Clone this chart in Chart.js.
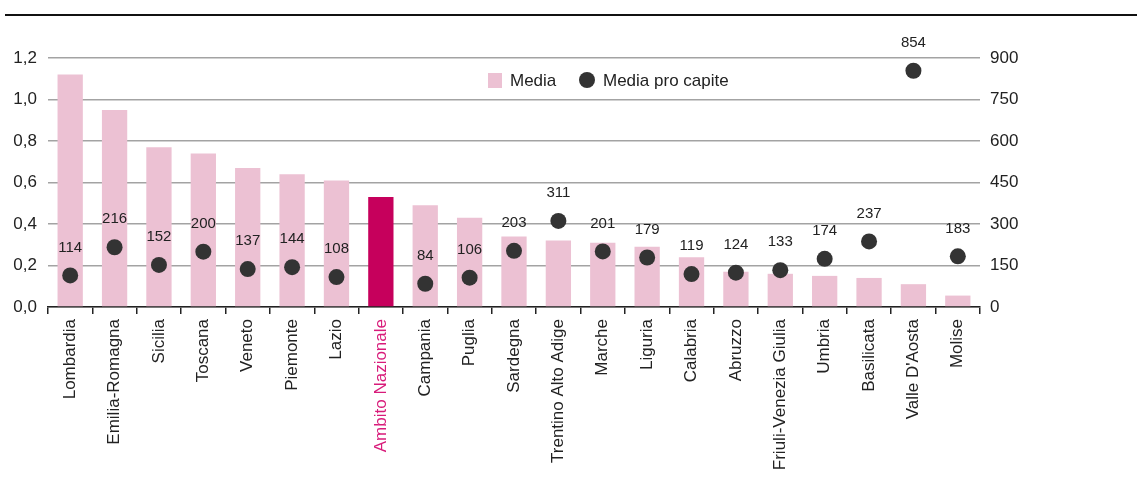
<!DOCTYPE html>
<html lang="it">
<head>
  <meta charset="UTF-8">
  <title>Media e media pro capite per regione</title>
  <script src="https://cdn.jsdelivr.net/npm/chart.js"></script>
  <style>
    html, body {
      margin: 0;
      padding: 0;
      background: #fff;
    }
    .top-rule {
      position: absolute;
      left: 5px;
      right: 0;
      top: 14px;
      border-top: 2px solid #111;
    }
    .chart-box {
      position: relative;
      width: 1137px;
      height: 496px;
    }
  </style>
</head>
<body>
  <div class="chart-box">
    <div class="top-rule"></div>
    <canvas id="myChart" width="1137" height="496"></canvas>
  </div>

  <script>
    const regions = ['Lombardia', 'Emilia-Romagna', 'Sicilia', 'Toscana', 'Veneto', 'Piemonte', 'Lazio',
      'Ambito Nazionale', 'Campania', 'Puglia', 'Sardegna', 'Trentino Alto Adige', 'Marche', 'Liguria',
      'Calabria', 'Abruzzo', 'Friuli-Venezia Giulia', 'Umbria', 'Basilicata', "Valle D'Aosta", 'Molise'];
    const media = [1.12, 0.95, 0.77, 0.74, 0.67, 0.64, 0.61, 0.53, 0.49, 0.43, 0.34, 0.32, 0.31, 0.29,
      0.24, 0.17, 0.16, 0.15, 0.14, 0.11, 0.055];
    const mediaProCapite = [114, 216, 152, 200, 137, 144, 108, null, 84, 106, 203, 311, 201, 179,
      119, 124, 133, 174, 237, 854, 183];
    const leftTicks = [0, 0.2, 0.4, 0.6, 0.8, 1.0, 1.2];
    const rightTicks = [0, 150, 300, 450, 600, 750, 900];
    const highlight = 'Ambito Nazionale';

    // no narrow face installed, so a smaller regular sans keeps the text widths close
    const FONT = "'Liberation Sans Narrow', 'Arial Narrow', 'Liberation Sans', Arial, sans-serif";
    const PINK = '#ecc1d3';
    const MAGENTA = '#c6005c';
    const DOT = '#333333';

    const barColors = regions.map(r => r === highlight ? MAGENTA : PINK);

    // numbers over the dots
    const dotLabels = {
      id: 'dotLabels',
      afterDatasetsDraw(chart) {
        const meta = chart.getDatasetMeta(1);
        const ctx = chart.ctx;
        ctx.save();
        ctx.font = '15px ' + FONT;
        ctx.fillStyle = '#222';
        ctx.textAlign = 'center';
        ctx.textBaseline = 'middle';
        meta.data.forEach((pt, i) => {
          const v = mediaProCapite[i];
          if (v == null) return;
          ctx.fillText(String(v), pt.x, pt.y - 28);
        });
        ctx.restore();
      }
    };

    // legend inside the plot, like the original
    const plotLegend = {
      id: 'plotLegend',
      afterDraw(chart) {
        const ctx = chart.ctx;
        ctx.save();
        ctx.font = '17px ' + FONT;
        ctx.textBaseline = 'middle';
        ctx.fillStyle = PINK;
        ctx.fillRect(488, 73, 14, 15);
        ctx.fillStyle = '#222';
        ctx.fillText('Media', 510, 81);
        ctx.fillStyle = DOT;
        ctx.beginPath();
        ctx.arc(587, 80, 8, 0, Math.PI * 2);
        ctx.fill();
        ctx.fillStyle = '#222';
        ctx.fillText('Media pro capite', 603, 81);
        ctx.restore();
      }
    };

    const ctx = document.getElementById('myChart').getContext('2d');
    const myChart = new Chart(ctx, {
      type: 'bar',
      data: {
        labels: regions,
        datasets: [{
          label: 'Media',
          data: media,
          backgroundColor: barColors,
          barPercentage: 0.57,
          categoryPercentage: 1.0,
          yAxisID: 'y',
          order: 2
        }, {
          type: 'line',
          label: 'Media pro capite',
          data: mediaProCapite,
          showLine: false,
          pointRadius: 8,
          pointHoverRadius: 8,
          pointBackgroundColor: DOT,
          pointBorderColor: DOT,
          pointBorderWidth: 0,
          yAxisID: 'y1',
          order: 1
        }]
      },
      options: {
        responsive: false,
        animation: false,
        layout: { padding: { top: 58, left: 0, right: 0, bottom: 0 } },
        plugins: {
          legend: { display: false },
          tooltip: { enabled: false }
        },
        scales: {
          x: {
            offset: true,
            afterFit: s => { s.height = 189; },
            grid: {
              offset: true,
              drawOnChartArea: false,
              drawTicks: true,
              tickLength: 7,
              color: '#222',
              lineWidth: 1.5
            },
            border: { color: '#222', width: 1.5 },
            ticks: {
              autoSkip: false,
              minRotation: 90,
              maxRotation: 90,
              padding: 5,
              font: { family: FONT, size: 17 },
              color: c => regions[c.index] === highlight ? '#d81b7a' : '#222'
            }
          },
          y: {
            position: 'left',
            min: 0,
            max: 1.2,
            afterFit: s => { s.width = 48; },
            afterBuildTicks: s => { s.ticks = leftTicks.map(v => ({ value: v })); },
            grid: { color: '#a3a3a3', lineWidth: 1.5, drawTicks: false },
            border: { display: false },
            ticks: {
              padding: 11,
              font: { family: FONT, size: 17 },
              color: '#222',
              callback: v => v.toFixed(1).replace('.', ',')
            }
          },
          y1: {
            position: 'right',
            min: 0,
            max: 900,
            afterFit: s => { s.width = 157; },
            afterBuildTicks: s => { s.ticks = rightTicks.map(v => ({ value: v })); },
            grid: { drawOnChartArea: false, drawTicks: false },
            border: { display: false },
            ticks: {
              padding: 10,
              font: { family: FONT, size: 17 },
              color: '#222'
            }
          }
        }
      },
      plugins: [dotLabels, plotLegend]
    });
  </script>
</body>
</html>
